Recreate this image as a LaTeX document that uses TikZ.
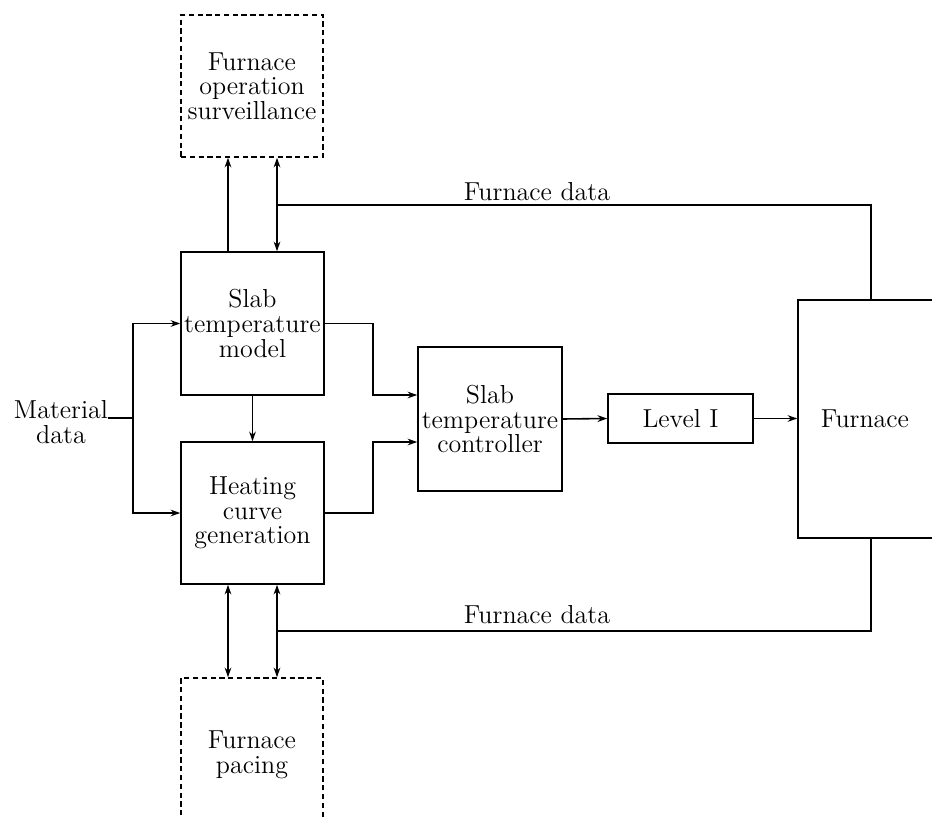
\documentclass[tikz,border=0pt]{standalone}
\usetikzlibrary{arrows.meta,calc}
\begin{document}
\begin{tikzpicture}[x=0.02cm,y=-0.02cm,
  every node/.style={font=\fontsize{14.8pt}{14pt}\selectfont, align=center, inner sep=0pt},
  blk/.style={draw, line width=0.9pt},
  dblk/.style={draw, line width=0.9pt, dash pattern=on 3pt off 2pt},
  ln/.style={line width=0.9pt},
  arr/.style={line width=0.9pt, -{Stealth[length=5.5pt,width=3.8pt]}},
  barr/.style={line width=0.9pt, {Stealth[length=5.5pt,width=3.8pt]}-{Stealth[length=5.5pt,width=3.8pt]}}]
\useasboundingbox (0,0) rectangle (932,818);
\clip (0,0) rectangle (932,818);
% boxes
\node[dblk, minimum width=2.84cm, minimum height=2.84cm] (surv) at (252,86) {Furnace\\operation\\surveillance};
\node[blk, minimum width=2.86cm, minimum height=2.86cm] (model) at (252.5,323.5) {Slab\\temperature\\model};
\node[blk, minimum width=2.86cm, minimum height=2.84cm] (heat) at (252.5,513) {Heating\\curve\\generation};
\node[blk, minimum width=2.88cm, minimum height=2.88cm] (ctrl) at (490,419) {Slab\\temperature\\controller};
\node[blk, minimum width=2.9cm, minimum height=0.98cm] (lvl) at (680.5,418.5) {Level I};
\node[blk, minimum width=2.76cm, minimum height=4.76cm] (furn) at (867,419) {};
\node (furnt) at (865,419) {Furnace};
\node[dblk, minimum width=2.84cm, minimum height=3.1cm] (pace) at (252,755.5) {};
\node (pacet) at (252,755) {Furnace\\pacing};
\node (mat) at (61,422) {Material\\data};
% helper coordinates
\coordinate (xL) at (228,0);
\coordinate (xR) at (277,0);
\coordinate (xF) at (871,0);
\coordinate (fdt) at (277,205);
\coordinate (fdb) at (277,631);
\coordinate (mj) at (133,418);
% top connectors
\draw[arr] (model.north -| xL) -- (surv.south -| xL);
\draw[barr] (surv.south -| xR) -- (model.north -| xR);
\draw[ln] (fdt) -| (furn.north -| xF);
\node[anchor=south] (fdtl) at (537,201) {Furnace data};
% bottom connectors
\draw[barr] (heat.south -| xL) -- (pace.north -| xL);
\draw[barr] (heat.south -| xR) -- (pace.north -| xR);
\draw[ln] (fdb) -| (furn.south -| xF);
\node[anchor=south] (fdbl) at (537,624) {Furnace data};
% material data
\draw[ln] (mat.east |- mj) -- (mj);
\draw[arr] (mj) |- (model.west);
\draw[arr] (mj) |- (heat.west);
% model -> heat
\draw[arr] (model.south) -- (heat.north);
% to controller
\draw[arr] (model.east) -- ++(48,0) |- ($(ctrl.west)+(0,-24)$);
\draw[arr] (heat.east) -- ++(48,0) |- ($(ctrl.west)+(0,23)$);
\draw[arr] (ctrl.east) -- (lvl.west);
\draw[arr] (lvl.east) -- (furn.west |- lvl.east);
\end{tikzpicture}
\end{document}
